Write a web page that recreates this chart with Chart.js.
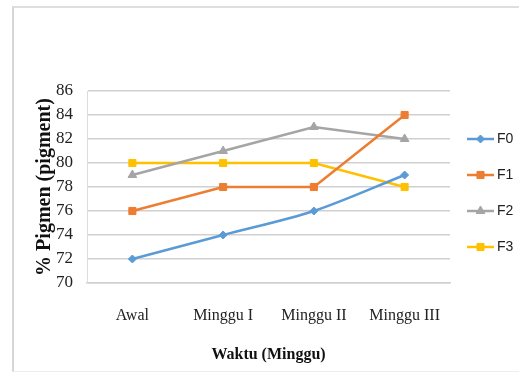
<!DOCTYPE html>
<html>
<head>
<meta charset="utf-8">
<script src="https://cdn.jsdelivr.net/npm/chart.js@4/dist/chart.umd.min.js"></script>
<style>
  body { margin: 0; background: #fff; }
  #wrap { position: relative; width: 519px; height: 373px; }
  #frame { position: absolute; left: 12px; top: 6px; width: 505px; height: 363px;
           border-left: 2px solid #d6d6d6; border-top: 2px solid #dedede;
           border-right: 1px solid #eeeeee; border-bottom: 1px solid #eeeeee; pointer-events: none; }
  canvas { position: absolute; left: 0; top: 0; }
</style>
</head>
<body>
<div id="wrap">
  <canvas id="myChart" width="519" height="373"></canvas>
  <div id="frame"></div>
</div>
<script>
const weeks = ['Awal', 'Minggu I', 'Minggu II', 'Minggu III'];
const f0 = [72, 74, 76, 79];
const f1 = [76, 78, 78, 84];
const f2 = [79, 81, 83, 82];
const f3 = [80, 80, 80, 78];
const yMin = 70, yMax = 86, yStep = 2;

const serif = '"Liberation Serif", "Times New Roman", serif';

function series(label, data, color, style, radius, tension) {
  return {
    label, data,
    borderColor: color, backgroundColor: color,
    borderWidth: 2.5,
    pointStyle: style, pointRadius: radius, pointHoverRadius: radius,
    pointBorderWidth: 1,
    tension: tension || 0
  };
}

// excel-like legend: short line with the marker on it
const sideLegend = {
  id: 'sideLegend',
  afterDraw(chart) {
    const ctx = chart.ctx;
    const x0 = 467, x1 = 494;
    let y = chart.chartArea.top + 48;
    chart.data.datasets.forEach(ds => {
      ctx.save();
      ctx.strokeStyle = ds.borderColor;
      ctx.fillStyle = ds.backgroundColor;
      ctx.lineWidth = 2.5;
      ctx.beginPath();
      ctx.moveTo(x0, y);
      ctx.lineTo(x1, y);
      ctx.stroke();
      ctx.lineWidth = 1;
      Chart.helpers.drawPoint(ctx, { pointStyle: ds.pointStyle, radius: ds.pointRadius, borderWidth: 1, rotation: 0 }, (x0 + x1) / 2, y);
      ctx.fillStyle = '#222';
      ctx.font = '14px "Liberation Sans Narrow", "Liberation Sans", sans-serif';
      ctx.textBaseline = 'middle';
      ctx.fillText(ds.label, x1 + 3, y);
      ctx.restore();
      y += 36;
    });
  }
};

new Chart(document.getElementById('myChart').getContext('2d'), {
  type: 'line',
  data: {
    labels: weeks,
    datasets: [
      series('F0', f0, '#5B9BD5', 'rectRot', 4, 0.3),
      series('F1', f1, '#ED7D31', 'rect', 5),
      series('F2', f2, '#A5A5A5', 'triangle', 5),
      series('F3', f3, '#FFC000', 'rect', 5)
    ]
  },
  options: {
    responsive: false,
    animation: false,
    layout: { padding: { top: 91, right: 69, left: 0, bottom: 0 } },
    plugins: { legend: { display: false }, tooltip: { enabled: false } },
    scales: {
      x: {
        offset: true,
        grid: { display: false, drawTicks: false },
        border: { display: true, color: '#d0d0d0', width: 1.5 },
        ticks: { color: '#222', padding: 23, font: { family: serif, size: 16 } },
        title: { display: true, text: 'Waktu (Minggu)', color: '#111',
                 padding: { top: 0, bottom: 9 }, font: { family: serif, size: 16, weight: 'bold' } },
        afterFit(scale) { scale.height = 90; }
      },
      y: {
        min: yMin, max: yMax,
        grid: { color: '#d0d0d0', lineWidth: 1.5, drawTicks: false },
        border: { display: true, color: '#dcdcdc', width: 1 },
        ticks: { stepSize: yStep, color: '#222', padding: 14, font: { family: serif, size: 17 } },
        title: { display: true, text: '% Pigmen (pigment)', color: '#111',
                 padding: { top: 33, bottom: 0 }, font: { family: serif, size: 20, weight: 'bold' } },
        afterFit(scale) { scale.width = 87; }
      }
    }
  },
  plugins: [sideLegend]
});
</script>
</body>
</html>
